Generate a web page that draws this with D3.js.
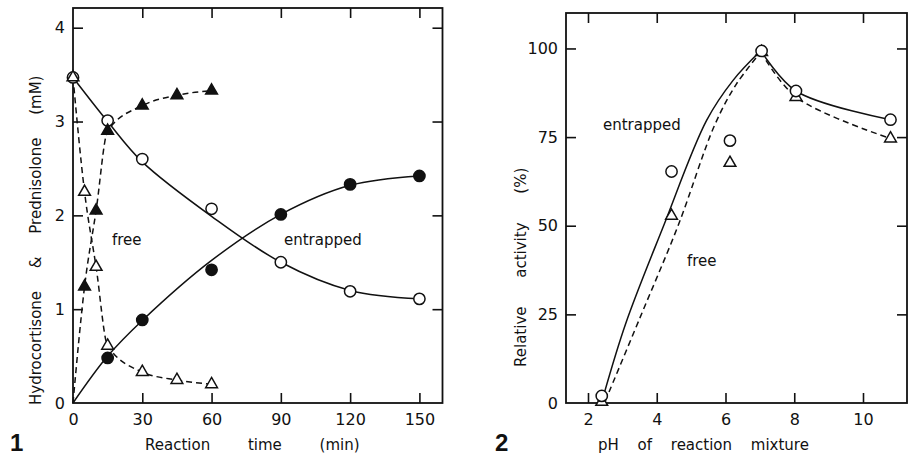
<!DOCTYPE html>
<head>
<meta charset="utf-8">
<title>Hydrocortisone conversion</title>
<style>
body { margin: 0; background: #fff; }
svg text { font-family: "DejaVu Sans", sans-serif; fill: #111; }
.axis path { display: none; }
.axis line { stroke: #111; stroke-width: 1.6; }
.axis text { font-size: 16px; }
.lbl { font-size: 15px; }
.frame { fill: none; stroke: #111; stroke-width: 1.8; }
.fit { fill: none; stroke: #111; stroke-width: 1.5; }
.dash { stroke-dasharray: 6,4; }
</style>
<script src="https://cdn.jsdelivr.net/npm/d3@7"></script>
</head>
<body>
<script>
// ---- figure 1 : time course (mM) ----
var times = [0, 15, 30, 60, 90, 120, 150];
var entrapSubstrate = [3.47, 3.01, 2.6, 2.07, 1.5, 1.19, 1.11];      // open circles
var entrapSubstrateFit = [3.47, 3.0, 2.57, 1.99, 1.5, 1.2, 1.11];
var entrapProdTimes = [15, 30, 60, 90, 120, 150];
var entrapProduct = [0.48, 0.885, 1.42, 2.01, 2.33, 2.42];           // filled circles
var entrapProductFit = [0, 0.5, 0.88, 1.52, 2.01, 2.32, 2.42];
var freeTimes = [0, 5, 10, 15, 30, 45, 60];
var freeSubstrate = [3.47, 2.25, 1.45, 0.61, 0.33, 0.245, 0.2];      // open triangles
var freeProdTimes = [5, 10, 15, 30, 45, 60];
var freeProduct = [1.24, 2.05, 2.9, 3.17, 3.28, 3.33];              // filled triangles
var timeTicks = [0, 30, 60, 90, 120, 150];
var mMTicks = [0, 1, 2, 3, 4];

// ---- figure 2 : pH profile (%) ----
var pH = [2.4, 4.43, 6.13, 7.05, 8.05, 10.8];
var actEntrapped = [2, 65.3, 74, 99.3, 88, 79.9];    // open circles
var actFree = [0.3, 52.8, 67.7, 99, 86.3, 74.6];     // open triangles
var entrapFitRisePH = [2.45, 3.1, 4.2, 5.45, 6.22, 7.03];
var entrapFitRise = [2, 22.5, 50, 79.7, 91, 99.4];
var entrapFitFallPH = [7.03, 8.05, 10.8];
var entrapFitFall = [99.4, 88, 79.9];
var freeFitRisePH = [2.5, 3.51, 4.62, 5.69, 6.32, 7.03];
var freeFitRise = [0.5, 24, 50, 78.5, 90, 99];
var freeFitFallPH = [7.03, 8.05, 10.8];
var freeFitFall = [99, 86.3, 74.6];
var pHTicks = [2, 4, 6, 8, 10];
var actTicks = [0, 25, 50, 75, 100];

var svg = d3.select("body").append("svg")
    .attr("width", 909).attr("height", 457);

function zip(xs, ys) { return xs.map(function(x, i) { return [x, ys[i]]; }); }

function drawFrame(x, y, xt, yt, xFmt, yFmt) {
  var x0 = x.range()[0], x1 = x.range()[1], y0 = y.range()[0], y1 = y.range()[1];
  svg.append("rect").attr("class", "frame")
    .attr("x", x0).attr("y", y1).attr("width", x1 - x0).attr("height", y0 - y1);
  var inner = xt.filter(function(d) { return x(d) > x0 + 3; });
  var innerY = yt.filter(function(d) { return y(d) < y0 - 3; });
  // bottom with labels, ticks pointing inward on all four sides
  svg.append("g").attr("class", "axis").attr("transform", "translate(0," + y0 + ")")
    .call(d3.axisBottom(x).tickValues(xt).tickSize(-10).tickPadding(11).tickFormat(xFmt))
    .selectAll(".tick line").attr("y2", function(d) { return x(d) > x0 + 3 ? -10 : 0; });
  svg.append("g").attr("class", "axis").attr("transform", "translate(0," + y1 + ")")
    .call(d3.axisTop(x).tickValues(inner).tickSize(-10).tickFormat(""));
  svg.append("g").attr("class", "axis").attr("transform", "translate(" + x0 + ",0)")
    .call(d3.axisLeft(y).tickValues(yt).tickSize(-10).tickPadding(8).tickFormat(yFmt))
    .selectAll(".tick line").attr("x2", function(d) { return y(d) < y0 - 3 ? 10 : 0; });
  svg.append("g").attr("class", "axis").attr("transform", "translate(" + x1 + ",0)")
    .call(d3.axisRight(y).tickValues(innerY).tickSize(-10).tickFormat(""));
}

function curve(x, y, pts, dashed, kind) {
  svg.append("path").attr("class", dashed ? "fit dash" : "fit")
    .attr("d", d3.line().x(function(d) { return x(d[0]); }).y(function(d) { return y(d[1]); })
      .curve(kind || d3.curveMonotoneX)(pts));
}

function marks(x, y, pts, type, filled) {
  var sym = d3.symbol().type(type).size(type === d3.symbolCircle ? 100 : 60);
  svg.append("g").selectAll("path").data(pts).enter().append("path")
    .attr("transform", function(d) { return "translate(" + x(d[0]) + "," + y(d[1]) + ")"; })
    .attr("d", sym)
    .attr("fill", filled ? "#111" : "#fff")
    .attr("stroke", "#111").attr("stroke-width", 1.5);
}

// ---------- panel 1 ----------
var x1 = d3.scaleLinear().domain([0, 160]).range([73, 442.5]);
var y1 = d3.scaleLinear().domain([0, 4.21]).range([403, 8]);
drawFrame(x1, y1, timeTicks, mMTicks, d3.format("d"), d3.format("d"));

var smooth = d3.curveCatmullRom.alpha(0.5);
curve(x1, y1, zip(times, entrapSubstrateFit), false, smooth);
curve(x1, y1, zip(times, entrapProductFit), false, smooth);
curve(x1, y1, zip(freeTimes, freeSubstrate), true);
curve(x1, y1, [[0, 0]].concat(zip(freeProdTimes, freeProduct)), true);

marks(x1, y1, zip(times, entrapSubstrate), d3.symbolCircle, false);
marks(x1, y1, zip(entrapProdTimes, entrapProduct), d3.symbolCircle, true);
marks(x1, y1, zip(freeTimes, freeSubstrate), d3.symbolTriangle, false);
marks(x1, y1, zip(freeProdTimes, freeProduct), d3.symbolTriangle, true);

svg.append("text").attr("class", "lbl").attr("x", 112).attr("y", 245).text("free");
svg.append("text").attr("class", "lbl").attr("x", 284).attr("y", 245).text("entrapped");
svg.append("text").attr("class", "lbl").attr("x", 145).attr("y", 450)
  .style("word-spacing", "33px").text("Reaction time (min)");
svg.append("text").attr("class", "lbl")
  .attr("transform", "translate(41,405) rotate(-90)")
  .style("word-spacing", "18px").text("Hydrocortisone & Prednisolone (mM)");
svg.append("text").attr("x", 10).attr("y", 451)
  .style("font-family", "Liberation Sans, Arial, sans-serif")
  .style("font-weight", "bold").style("font-size", "24px").text("1");

// ---------- panel 2 ----------
var x2 = d3.scaleLinear().domain([1.36, 11.28]).range([566, 907]);
var y2 = d3.scaleLinear().domain([0, 110]).range([403, 13]);
drawFrame(x2, y2, pHTicks, actTicks, function(d) { return d; }, function(d) { return d; });

curve(x2, y2, zip(entrapFitRisePH, entrapFitRise), false, smooth);
curve(x2, y2, zip(entrapFitFallPH, entrapFitFall), false, smooth);
curve(x2, y2, zip(freeFitRisePH, freeFitRise), true, smooth);
curve(x2, y2, zip(freeFitFallPH, freeFitFall), true, smooth);

marks(x2, y2, zip(pH, actFree), d3.symbolTriangle, false);
marks(x2, y2, zip(pH, actEntrapped), d3.symbolCircle, false);

svg.append("text").attr("class", "lbl").attr("x", 603).attr("y", 130).text("entrapped");
svg.append("text").attr("class", "lbl").attr("x", 687).attr("y", 266).text("free");
svg.append("text").attr("class", "lbl").attr("x", 598).attr("y", 450)
  .style("word-spacing", "14px").text("pH of reaction mixture");
svg.append("text").attr("class", "lbl")
  .attr("transform", "translate(526,367) rotate(-90)")
  .style("word-spacing", "24px").text("Relative activity (%)");
svg.append("text").attr("x", 495).attr("y", 451)
  .style("font-family", "Liberation Sans, Arial, sans-serif")
  .style("font-weight", "bold").style("font-size", "24px").text("2");
</script>
</body>
